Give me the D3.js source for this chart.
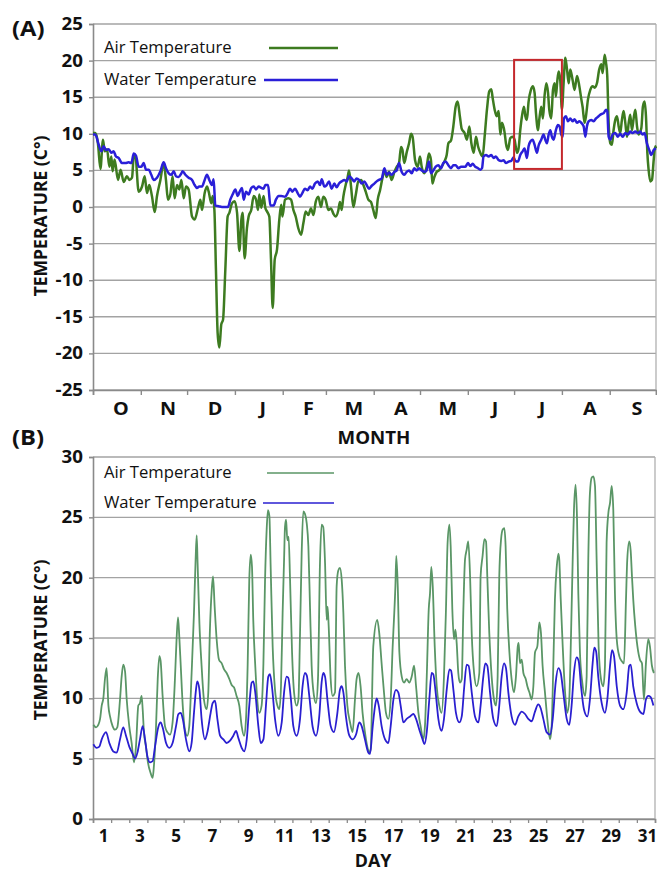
<!DOCTYPE html>
<html><head><meta charset="utf-8">
<script src="https://cdn.jsdelivr.net/npm/d3@7"></script>
<style>html,body{margin:0;padding:0;background:#fff}</style>
</head><body>
<svg id="c" width="657" height="874"></svg>
<script>
// ---------------- DATA ----------------
const monthLabels = ["O","N","D","J","F","M","A","M","J","J","A","S"];
const monthLengths = [31,30,31,31,28,31,30,31,30,31,31,30];
const yTicksA = [-25,-20,-15,-10,-5,0,5,10,15,20,25];
const yTicksB = [0,5,10,15,20,25,30];
const dayLabels = [1,3,5,7,9,11,13,15,17,19,21,23,25,27,29,31];
const seriesNames = ["Air Temperature","Water Temperature"];
// July highlight (days since 1 Oct, temperature range)
const julyBox = {from:273, to:304, hi:20.1, lo:5.2};

// Panel A: [days since 1 Oct, °C]
const airA = [[0,10.1],[1.5,10.1],[3.2,8.7],[4.8,5.2],[6.5,9.2],[7.6,7.6],[9.1,7.9],[10.6,5.5],[11.9,6.9],[12.7,4.9],[14.0,6.5],[16.2,3.7],[17.9,5.1],[19.9,3.4],[22.0,4.2],[23.6,3.7],[25.3,4.0],[26.4,6.9],[27.4,7.1],[29.6,2.1],[31.8,2.8],[33.5,4.2],[35.0,1.9],[36.5,3.0],[38.2,1.5],[40.0,-0.7],[41.5,1.5],[43.7,3.7],[45.8,6.0],[47.3,3.7],[48.6,1.0],[50.1,1.7],[51.6,4.2],[52.9,1.2],[54.5,3.0],[56.0,2.4],[57.3,3.7],[58.8,1.2],[60.3,2.8],[62.0,2.4],[64.2,-1.3],[65.9,-1.7],[68.1,-0.1],[69.6,1.0],[70.7,-0.4],[72.4,1.9],[73.9,2.8],[75.0,2.1],[76.7,0.5],[77.6,1.5],[78.7,-0.4],[79.7,-8.5],[80.8,-17.2],[81.9,-19.2],[83.2,-16.0],[84.3,-15.4],[85.8,-8.5],[87.3,-1.3],[88.4,-0.8],[90.1,0.5],[91.8,0.8],[93.4,-0.8],[94.9,-6.0],[96.2,-1.7],[97.0,-0.8],[98.3,-7.0],[99.8,-2.9],[100.9,-1.3],[102.6,-0.4],[104.2,1.5],[105.7,1.0],[107.0,-0.4],[107.8,1.7],[109.1,-0.1],[110.6,1.5],[111.7,-0.1],[112.8,-0.6],[114.3,-1.3],[115.4,-7.2],[116.5,-13.8],[117.8,-7.2],[119.3,-5.8],[120.8,-1.7],[122.0,0.3],[122.8,-1.3],[124.5,1.0],[126.6,1.2],[128.4,1.0],[129.9,-0.4],[131.4,-1.3],[133.1,-2.9],[134.9,-3.8],[136.4,-2.2],[137.9,-0.6],[139.6,-1.1],[141.3,-0.2],[142.9,-1.1],[144.4,0.7],[146.1,1.4],[147.8,0.0],[149.3,1.4],[150.8,1.0],[152.6,-0.4],[154.3,-0.2],[155.8,-0.9],[157.3,-1.3],[159.1,-0.4],[160.1,0.7],[161.2,-0.4],[162.3,1.4],[163.8,3.0],[165.1,4.1],[166.0,5.0],[167.3,2.8],[168.8,0.0],[170.3,1.6],[172.0,3.5],[173.8,3.7],[175.3,3.0],[176.8,2.1],[178.5,1.0],[180.2,0.7],[181.7,-0.4],[183.3,-1.5],[184.6,1.0],[186.1,2.3],[187.6,3.9],[188.9,5.0],[190.4,4.1],[191.9,4.8],[193.6,3.7],[195.4,4.8],[196.9,5.5],[198.4,6.0],[199.7,8.2],[200.6,7.8],[201.8,6.0],[203.4,7.5],[204.9,8.7],[206.2,10.0],[207.2,9.6],[208.8,6.4],[210.5,5.5],[212.0,6.9],[213.1,5.5],[214.8,4.6],[216.3,5.5],[217.8,7.3],[219.1,6.4],[220.0,3.2],[221.3,4.1],[222.8,4.8],[224.3,5.0],[226.0,5.5],[227.8,6.2],[229.3,7.1],[230.4,8.7],[232.1,9.1],[233.6,11.0],[235.1,13.7],[236.4,14.4],[237.9,12.3],[239.0,10.7],[240.9,10.1],[242.4,9.2],[244.0,11.0],[245.3,8.7],[246.8,7.4],[248.3,9.6],[249.6,8.3],[251.1,7.4],[252.6,6.9],[253.9,9.6],[255.4,13.3],[256.9,15.8],[258.2,16.1],[259.1,14.9],[260.4,13.3],[261.7,12.4],[263.0,13.1],[264.1,9.9],[265.1,11.5],[266.9,10.1],[267.7,8.7],[269.0,7.8],[270.5,9.4],[272.0,9.6],[273.3,9.2],[274.9,7.4],[275.9,8.0],[277.0,10.5],[278.1,12.4],[279.4,13.7],[280.3,12.4],[281.3,11.9],[282.4,14.4],[283.9,16.0],[285.2,16.5],[286.3,15.6],[287.2,12.8],[288.5,10.5],[289.3,11.9],[290.6,13.7],[291.7,12.1],[292.8,15.3],[293.9,16.9],[295.0,15.6],[295.8,13.3],[297.1,12.1],[298.2,16.0],[299.3,16.9],[300.1,15.1],[301.0,17.2],[301.9,18.5],[302.9,17.4],[304.0,13.3],[305.1,16.9],[306.2,20.4],[307.3,18.8],[308.4,16.9],[309.4,18.8],[310.9,17.4],[312.2,16.0],[313.8,17.9],[315.3,16.5],[316.6,14.7],[317.4,13.7],[318.7,11.5],[319.6,12.4],[320.9,14.7],[322.4,16.0],[323.9,16.5],[325.2,16.3],[326.7,16.9],[328.2,18.8],[329.5,19.5],[330.4,18.3],[331.7,20.8],[332.6,19.7],[333.4,17.9],[334.3,11.5],[335.4,8.7],[336.4,8.5],[337.5,10.5],[338.6,11.9],[339.7,12.4],[340.8,11.0],[341.8,10.1],[342.9,11.9],[344.0,13.1],[345.1,11.5],[346.2,9.6],[347.3,11.5],[348.3,12.6],[349.4,10.5],[350.5,12.1],[351.6,13.3],[352.7,11.0],[353.7,9.9],[355.5,10.8],[356.5,13.7],[357.6,14.4],[358.5,12.4],[359.4,7.4],[360.2,5.1],[361.3,3.5],[362.4,3.7],[363.5,6.4],[364.5,8.3],[365,8.0]];

const waterA = [[0,9.9],[1.5,9.9],[3.7,8.5],[5.4,7.6],[6.9,8.3],[8.4,7.8],[10.2,7.9],[11.9,7.4],[13.4,7.6],[14.9,6.9],[16.6,6.7],[18.8,6.0],[21.0,6.0],[23.1,6.1],[24.9,6.0],[26.4,7.3],[27.9,7.0],[29.6,5.5],[31.3,5.5],[32.8,6.0],[34.4,5.1],[36.1,5.1],[37.8,4.4],[39.3,3.7],[41.5,4.0],[43.7,4.9],[45.8,6.1],[47.3,5.3],[49.1,4.6],[50.8,4.4],[52.3,4.9],[53.8,4.2],[55.5,4.1],[57.3,4.6],[58.1,4.9],[59.9,4.4],[62.0,4.0],[64.2,3.7],[65.9,3.0],[67.4,2.6],[68.9,2.8],[70.7,2.8],[72.4,3.7],[73.9,4.4],[75.4,3.7],[77.1,3.0],[78.2,3.8],[79.3,0.2],[81.5,0.1],[83.6,0.0],[85.8,0.0],[87.5,0.0],[89.0,1.0],[90.5,1.7],[92.3,2.4],[93.8,1.5],[95.1,2.1],[96.6,2.6],[97.7,1.0],[99.2,2.1],[100.9,1.7],[102.6,2.6],[104.2,2.8],[105.7,2.4],[107.4,2.8],[109.1,2.6],[110.6,2.5],[111.7,3.0],[113.5,3.0],[115.0,0.2],[117.1,0.2],[118.6,1.0],[120.4,1.5],[122.1,1.5],[124.5,1.4],[126.2,1.9],[127.7,2.5],[129.2,2.1],[131.0,2.5],[132.7,1.9],[134.2,1.4],[135.7,1.9],[137.4,2.5],[139.2,2.3],[140.7,2.8],[142.2,2.5],[143.9,3.2],[145.7,3.5],[147.2,3.0],[148.3,3.8],[150.0,2.8],[151.5,3.0],[153.0,3.5],[154.7,2.5],[156.5,3.2],[158.0,2.7],[159.5,3.2],[161.2,3.5],[162.9,3.7],[164.5,3.5],[166.0,4.2],[167.7,3.9],[169.4,3.5],[170.9,3.9],[172.5,3.7],[174.2,3.2],[175.9,3.5],[177.4,3.0],[178.9,2.5],[180.7,2.9],[182.4,3.2],[183.9,3.5],[185.4,3.7],[187.2,3.9],[188.9,5.3],[190.4,4.4],[191.9,4.7],[193.6,4.4],[195.4,4.8],[196.9,5.0],[198.4,6.0],[200.1,4.8],[201.8,4.4],[203.4,4.8],[204.9,5.0],[206.6,4.6],[208.3,5.3],[209.8,5.0],[211.4,5.3],[213.1,5.0],[214.8,4.8],[216.3,5.0],[217.8,6.2],[219.1,4.6],[220.6,5.0],[222.2,5.5],[223.9,5.7],[225.6,5.3],[227.1,6.0],[228.6,6.2],[230.4,5.7],[232.1,5.3],[233.6,5.7],[235.1,5.7],[236.9,5.3],[238.6,5.5],[241.4,5.5],[243.1,6.0],[244.6,5.6],[246.1,5.9],[247.8,5.5],[249.6,5.3],[251.1,5.1],[252.2,5.3],[253.2,6.9],[254.8,7.1],[256.5,6.9],[258.2,7.1],[259.7,6.7],[261.2,6.9],[263.0,6.4],[264.7,6.3],[266.2,6.4],[267.7,6.0],[269.5,6.2],[271.2,6.3],[272.7,6.8],[273.8,6.3],[275.5,6.2],[277.0,7.1],[278.5,7.6],[279.8,8.0],[281.3,6.7],[282.4,8.3],[283.7,9.0],[285.0,9.2],[286.3,8.5],[287.8,7.4],[288.9,8.4],[290.6,9.2],[292.1,9.9],[293.2,9.2],[294.3,8.7],[295.4,9.9],[296.5,10.5],[297.5,9.6],[298.6,9.2],[300.1,10.5],[301.4,11.2],[302.5,11.0],[303.6,9.9],[304.5,9.6],[305.3,12.1],[306.6,12.4],[307.9,11.7],[309.4,12.1],[310.9,11.7],[312.2,12.0],[313.8,11.5],[315.3,11.7],[316.6,11.5],[318.1,11.0],[319.2,9.6],[320.2,11.0],[321.3,11.7],[323.0,11.9],[324.6,11.7],[326.1,12.1],[327.8,12.4],[329.5,12.7],[331.0,12.8],[332.6,13.3],[333.4,13.1],[334.3,9.6],[335.4,9.2],[336.9,9.9],[338.6,10.1],[340.3,9.6],[341.8,10.0],[343.4,9.6],[345.1,10.1],[346.8,9.9],[348.3,10.3],[349.8,10.1],[351.6,10.3],[353.3,10.1],[354.8,10.3],[356.3,9.9],[357.6,10.1],[359.1,8.7],[360.6,7.8],[361.9,7.1],[363.5,7.8],[365,8.0]];

// Panel B: [days since 1 July 00:00, °C]
const airB = [[0.02,7.8],[0.17,7.6],[0.29,7.8],[0.39,8.3],[0.48,9.4],[0.57,10.0],[0.66,11.6],[0.75,12.5],[0.85,9.4],[0.94,8.5],[1.08,7.7],[1.21,7.4],[1.34,7.6],[1.49,9.9],[1.58,11.8],[1.67,12.8],[1.77,12.2],[1.86,9.9],[2.00,7.7],[2.13,6.3],[2.26,4.7],[2.37,6.0],[2.50,9.4],[2.59,9.6],[2.68,10.2],[2.74,9.1],[2.81,7.2],[2.92,6.0],[3.03,4.7],[3.18,3.8],[3.29,3.4],[3.36,4.4],[3.47,7.4],[3.57,11.6],[3.66,13.5],[3.73,13.1],[3.84,10.2],[3.97,7.7],[4.10,7.2],[4.25,7.0],[4.39,8.0],[4.52,11.6],[4.61,14.9],[4.69,16.7],[4.76,15.1],[4.84,12.7],[4.95,9.4],[5.07,7.4],[5.20,6.9],[5.31,7.7],[5.44,12.1],[5.57,17.1],[5.66,21.5],[5.72,23.5],[5.77,21.2],[5.87,16.2],[5.99,12.7],[6.12,9.9],[6.27,9.1],[6.36,10.5],[6.45,15.7],[6.55,19.0],[6.62,20.1],[6.71,17.6],[6.82,14.9],[6.95,13.2],[7.10,12.9],[7.23,12.4],[7.37,12.1],[7.52,11.6],[7.65,11.1],[7.78,10.9],[7.92,10.2],[8.07,9.4],[8.20,7.7],[8.33,6.9],[8.44,8.3],[8.53,12.7],[8.62,19.8],[8.70,21.9],[8.77,20.9],[8.84,16.5],[8.95,12.7],[9.06,9.9],[9.17,8.8],[9.30,9.4],[9.40,12.9],[9.49,19.8],[9.58,24.0],[9.65,25.6],[9.73,25.1],[9.80,20.9],[9.91,14.3],[10.04,10.7],[10.17,9.4],[10.28,9.1],[10.37,11.0],[10.46,17.1],[10.54,21.5],[10.59,24.2],[10.65,24.8],[10.72,23.1],[10.79,23.4],[10.87,19.8],[10.98,13.8],[11.09,10.5],[11.23,9.4],[11.33,9.9],[11.42,15.4],[11.51,22.0],[11.60,25.5],[11.69,25.3],[11.79,24.5],[11.88,22.6],[11.97,17.6],[12.06,12.7],[12.19,10.2],[12.30,9.6],[12.41,11.6],[12.52,21.2],[12.61,24.4],[12.70,24.2],[12.80,21.2],[12.89,16.5],[12.94,17.6],[13.00,16.0],[13.11,11.6],[13.22,10.2],[13.35,10.5],[13.44,19.3],[13.53,20.6],[13.62,20.8],[13.72,19.8],[13.81,17.1],[13.90,12.7],[14.03,9.4],[14.18,8.0],[14.32,7.2],[14.45,9.9],[14.54,11.6],[14.65,12.1],[14.76,11.0],[14.87,8.8],[15.00,7.2],[15.13,6.0],[15.24,5.5],[15.32,5.8],[15.46,14.3],[15.68,16.5],[15.79,15.4],[15.92,12.9],[16.05,10.5],[16.16,8.8],[16.29,8.3],[16.42,9.9],[16.53,14.3],[16.60,16.5],[16.68,19.3],[16.73,21.8],[16.81,19.3],[16.90,13.8],[17.03,11.8],[17.16,11.3],[17.30,11.6],[17.45,11.3],[17.58,11.8],[17.71,12.7],[17.82,11.0],[17.95,8.8],[18.07,7.7],[18.22,6.6],[18.31,7.7],[18.41,11.8],[18.52,17.4],[18.59,18.7],[18.66,20.9],[18.74,19.3],[18.85,14.3],[18.96,11.0],[19.10,9.4],[19.23,8.8],[19.36,11.8],[19.47,17.4],[19.56,22.9],[19.66,24.4],[19.73,22.6],[19.82,17.4],[19.91,14.9],[19.99,15.7],[20.06,14.6],[20.15,12.1],[20.24,11.3],[20.34,11.6],[20.43,17.4],[20.52,21.5],[20.61,22.3],[20.70,23.0],[20.80,20.1],[20.89,15.4],[21.02,12.1],[21.16,11.0],[21.31,12.1],[21.38,20.1],[21.49,21.8],[21.59,23.2],[21.68,23.0],[21.75,20.1],[21.86,15.4],[21.99,11.8],[22.12,9.9],[22.23,9.4],[22.32,11.8],[22.41,20.1],[22.51,23.2],[22.60,24.0],[22.69,24.1],[22.76,22.6],[22.85,17.4],[22.97,13.8],[23.09,11.6],[23.22,10.5],[23.33,11.8],[23.43,14.3],[23.48,14.6],[23.55,12.9],[23.65,13.2],[23.74,12.1],[23.87,11.6],[23.96,11.0],[24.07,10.5],[24.20,9.9],[24.29,11.0],[24.38,13.8],[24.51,14.3],[24.62,16.3],[24.71,15.4],[24.80,12.7],[24.93,10.5],[25.06,8.3],[25.21,6.6],[25.30,7.7],[25.39,12.7],[25.48,18.2],[25.58,20.9],[25.67,22.0],[25.72,21.5],[25.80,18.2],[25.91,14.3],[26.04,10.5],[26.16,8.8],[26.27,9.9],[26.37,15.4],[26.46,21.5],[26.53,25.6],[26.62,27.7],[26.70,24.8],[26.77,18.7],[26.86,13.8],[26.99,11.3],[27.14,10.2],[27.23,11.8],[27.32,21.5],[27.41,27.0],[27.51,28.3],[27.60,28.4],[27.69,27.6],[27.78,21.5],[27.89,14.3],[28.02,11.6],[28.15,11.0],[28.24,12.7],[28.33,22.9],[28.43,25.4],[28.52,26.2],[28.61,27.6],[28.70,25.6],[28.79,18.7],[28.89,14.9],[29.03,13.5],[29.16,13.1],[29.29,12.9],[29.40,18.2],[29.47,21.5],[29.58,23.0],[29.66,22.2],[29.73,20.1],[29.80,18.2],[29.91,16.0],[30.03,14.3],[30.17,13.2],[30.28,12.9],[30.39,9.9],[30.50,12.9],[30.63,14.9],[30.72,14.3],[30.83,12.7],[30.94,12.1]];

const waterB = [[0.02,6.2],[0.20,5.9],[0.35,6.0],[0.48,6.6],[0.72,7.2],[0.90,6.3],[1.12,5.6],[1.31,5.5],[1.49,6.6],[1.67,7.6],[1.82,6.9],[2.00,6.0],[2.19,5.4],[2.32,5.0],[2.45,5.5],[2.59,6.6],[2.74,7.7],[2.87,6.6],[3.00,5.2],[3.14,4.7],[3.29,4.8],[3.42,6.0],[3.60,7.6],[3.73,8.0],[3.84,7.6],[4.03,6.3],[4.21,5.9],[4.39,6.3],[4.58,7.7],[4.71,8.7],[4.84,8.8],[4.95,8.3],[5.13,6.6],[5.31,5.6],[5.44,6.3],[5.57,8.8],[5.68,10.7],[5.75,11.4],[5.87,10.7],[5.99,8.3],[6.18,6.6],[6.31,7.2],[6.49,8.8],[6.60,9.6],[6.73,9.8],[6.86,8.3],[7.01,6.9],[7.19,6.6],[7.37,6.3],[7.56,6.5],[7.74,6.9],[7.89,7.3],[8.02,6.7],[8.20,5.9],[8.33,5.6],[8.48,6.6],[8.62,9.4],[8.75,11.3],[8.84,11.4],[8.95,10.5],[9.12,7.7],[9.25,6.3],[9.40,6.6],[9.54,9.4],[9.67,11.8],[9.76,12.0],[9.87,11.0],[10.04,8.3],[10.22,6.9],[10.41,8.0],[10.54,10.5],[10.68,11.8],[10.77,11.7],[10.90,10.2],[11.05,7.7],[11.23,6.9],[11.42,8.3],[11.56,11.0],[11.69,12.1],[11.79,11.9],[11.93,10.2],[12.12,7.6],[12.30,6.9],[12.48,8.5],[12.61,11.3],[12.70,12.1],[12.80,11.8],[12.93,9.9],[13.11,7.7],[13.29,7.2],[13.48,8.8],[13.62,10.7],[13.72,11.0],[13.81,10.5],[13.95,8.5],[14.14,6.9],[14.32,6.6],[14.51,7.0],[14.69,8.0],[14.82,7.7],[15.00,6.6],[15.19,5.5],[15.28,5.4],[15.43,7.7],[15.56,9.4],[15.65,10.0],[15.76,9.4],[15.92,7.7],[16.11,6.6],[16.29,6.3],[16.42,7.7],[16.57,9.9],[16.71,10.7],[16.84,10.5],[16.97,9.4],[17.12,8.0],[17.30,8.3],[17.49,8.5],[17.67,8.7],[17.82,8.3],[18.00,7.4],[18.18,6.6],[18.28,6.2],[18.41,7.2],[18.55,9.9],[18.68,12.1],[18.77,12.0],[18.90,10.5],[19.05,8.3],[19.23,7.3],[19.36,8.3],[19.51,10.7],[19.66,12.4],[19.75,12.3],[19.88,10.7],[20.02,8.8],[20.21,8.0],[20.34,8.5],[20.48,11.0],[20.61,12.8],[20.72,12.7],[20.89,10.5],[21.07,8.5],[21.26,8.0],[21.38,9.4],[21.53,11.8],[21.64,12.9],[21.75,12.7],[21.90,10.5],[22.08,8.3],[22.27,7.7],[22.41,9.4],[22.54,11.8],[22.67,12.9],[22.78,12.5],[22.91,10.5],[23.09,8.5],[23.28,7.8],[23.46,8.5],[23.65,8.9],[23.83,8.7],[24.01,8.3],[24.20,8.1],[24.38,8.9],[24.56,9.5],[24.69,9.2],[24.84,8.3],[25.02,7.2],[25.21,7.0],[25.36,8.3],[25.52,11.3],[25.67,12.5],[25.80,12.1],[25.94,10.5],[26.13,8.3],[26.27,7.8],[26.40,9.4],[26.53,12.1],[26.68,13.4],[26.79,13.1],[26.92,11.0],[27.08,9.1],[27.27,8.5],[27.41,9.9],[27.56,12.9],[27.65,14.2],[27.75,13.9],[27.87,11.8],[28.06,9.6],[28.24,8.8],[28.37,9.9],[28.52,12.7],[28.63,14.0],[28.74,13.5],[28.89,11.0],[29.07,9.4],[29.25,9.1],[29.44,10.5],[29.58,12.7],[29.66,12.8],[29.80,11.0],[29.99,9.6],[30.17,8.9],[30.36,8.7],[30.50,9.9],[30.63,10.2],[30.76,10.1],[30.91,9.4]];

// ---------------- DRAW ----------------
const svg = d3.select("#c");
const FONT = "'Open Sans', 'DejaVu Sans', sans-serif";
const GRID = "#a3a3a3", AXIS = "#8a8a8a";

function txt(g, s, x, y, o = {}) {
  return g.append("text").text(s)
    .attr("transform", `translate(${x},${y}) rotate(${o.rot || 0}) scale(${o.sx || 1},1)`)
    .attr("text-anchor", o.anchor || "start")
    .attr("dy", o.dy || "0.35em")
    .style("font-family", FONT)
    .style("font-size", (o.size || 16) + "px")
    .style("font-weight", o.weight || "normal")
    .attr("fill", "#111");
}

function frame(g, x, y, ticks) {
  const [x0, x1] = x.range();
  const [yb, yt] = y.range();
  g.selectAll("line.grid").data(ticks).join("line").attr("class", "grid")
    .attr("x1", x0).attr("x2", x1).attr("y1", d => y(d)).attr("y2", d => y(d))
    .attr("stroke", GRID).attr("stroke-width", 1.4);
  g.append("line").attr("x1", x1).attr("x2", x1).attr("y1", yt).attr("y2", yb)
    .attr("stroke", "#b0b0b0").attr("stroke-width", 1.3);
  const ax = g.append("g").attr("transform", `translate(${x0},0)`)
    .call(d3.axisLeft(y).tickValues(ticks).tickSize(4).tickFormat(""));
  ax.select(".domain").attr("stroke", AXIS).attr("stroke-width", 1.6);
  ax.selectAll(".tick line").attr("stroke", AXIS).attr("stroke-width", 1.4);
  ticks.forEach(t => txt(g, String(t), x0 - 10, y(t), {anchor: "end", size: 17, weight: "bold", sx: 1.1}));
}

function legend(g, entries, x0, y0, dy, lineX0, lineX1, widths) {
  entries.forEach((e, i) => {
    const yy = y0 + i * dy;
    txt(g, e.name, x0, yy, {size: 16, sx: 1.04});
    g.append("line").attr("x1", lineX0[i]).attr("x2", lineX1).attr("y1", yy + 1).attr("y2", yy + 1)
      .attr("stroke", e.color).attr("stroke-width", widths);
  });
}

// ===== Panel A =====
const xA = d3.scaleLinear().domain([0, 365]).range([93, 656]);
const yA = d3.scaleLinear().domain([-25, 25]).range([390, 24]);
const gA = svg.append("g");
frame(gA, xA, yA, yTicksA);

const monthStarts = d3.cumsum([0, ...monthLengths]);
const axA = gA.append("g").attr("transform", `translate(0,${yA(-25)})`)
  .call(d3.axisBottom(xA).tickValues(Array.from(monthStarts)).tickSize(5).tickFormat(""));
axA.select(".domain").attr("stroke", AXIS).attr("stroke-width", 1.6);
axA.selectAll(".tick line").attr("stroke", AXIS).attr("stroke-width", 1.4);
monthLabels.forEach((m, i) => {
  const mid = monthStarts[i] + monthLengths[i] / 2;
  txt(gA, m, xA(mid) + 4, 409, {anchor: "middle", size: 18, weight: "bold", sx: 1.1});
});
txt(gA, "MONTH", 374, 438, {anchor: "middle", size: 17, weight: "bold", sx: 1.1});
txt(gA, "TEMPERATURE (C°)", 41, 216, {anchor: "middle", size: 17.5, weight: "bold", rot: -90});
txt(svg, "(A)", 12, 28, {size: 22, weight: "bold", sx: 1.08});

const lineA = d3.line().x(d => xA(d[0])).y(d => yA(d[1])).curve(d3.curveMonotoneX);
gA.append("path").datum(airA).attr("d", lineA).attr("fill", "none")
  .attr("stroke", "#3d7b20").attr("stroke-width", 2.5).attr("stroke-linejoin", "round");
gA.append("path").datum(waterA).attr("d", lineA).attr("fill", "none")
  .attr("stroke", "#2a1fd8").attr("stroke-width", 2.5).attr("stroke-linejoin", "round");

gA.append("rect")
  .attr("x", xA(julyBox.from)).attr("y", yA(julyBox.hi))
  .attr("width", xA(julyBox.to) - xA(julyBox.from)).attr("height", yA(julyBox.lo) - yA(julyBox.hi))
  .attr("fill", "none").attr("stroke", "#c4282c").attr("stroke-width", 2);

legend(gA, [{name: seriesNames[0], color: "#3d7b20"}, {name: seriesNames[1], color: "#2a1fd8"}],
  104, 47, 32, [269, 264], 338, 2.4);

// ===== Panel B =====
const xB = d3.scaleLinear().domain([0, 31]).range([93, 655]);
const yB = d3.scaleLinear().domain([0, 30]).range([819, 457]);
const gB = svg.append("g");
frame(gB, xB, yB, yTicksB);
const axB = gB.append("g").attr("transform", `translate(0,${yB(0)})`)
  .call(d3.axisBottom(xB).tickValues(d3.range(0, 32)).tickSize(4).tickFormat(""));
axB.select(".domain").attr("stroke", AXIS).attr("stroke-width", 1.6);
axB.selectAll(".tick line").attr("stroke", AXIS).attr("stroke-width", 1.3);
dayLabels.forEach(d => txt(gB, String(d), xB(d - 0.5) + 1.5, 836, {anchor: "middle", size: 18, weight: "bold", sx: 0.95}));
txt(gB, "DAY", 373, 861, {anchor: "middle", size: 17, weight: "bold", sx: 1.05});
txt(gB, "TEMPERATURE (C°)", 41, 640, {anchor: "middle", size: 17.5, weight: "bold", rot: -90});
txt(svg, "(B)", 12, 437, {size: 22, weight: "bold", sx: 1.08});

const lineB = d3.line().x(d => xB(d[0])).y(d => yB(d[1])).curve(d3.curveMonotoneX);
gB.append("path").datum(airB).attr("d", lineB).attr("fill", "none")
  .attr("stroke", "#5a9666").attr("stroke-width", 1.8).attr("stroke-linejoin", "round");
gB.append("path").datum(waterB).attr("d", lineB).attr("fill", "none")
  .attr("stroke", "#2a1fd0").attr("stroke-width", 1.8).attr("stroke-linejoin", "round");

legend(gB, [{name: seriesNames[0], color: "#5a9666"}, {name: seriesNames[1], color: "#2a1fd0"}],
  104, 472, 30, [267, 263], 334, 1.6);
</script>
</body></html>
